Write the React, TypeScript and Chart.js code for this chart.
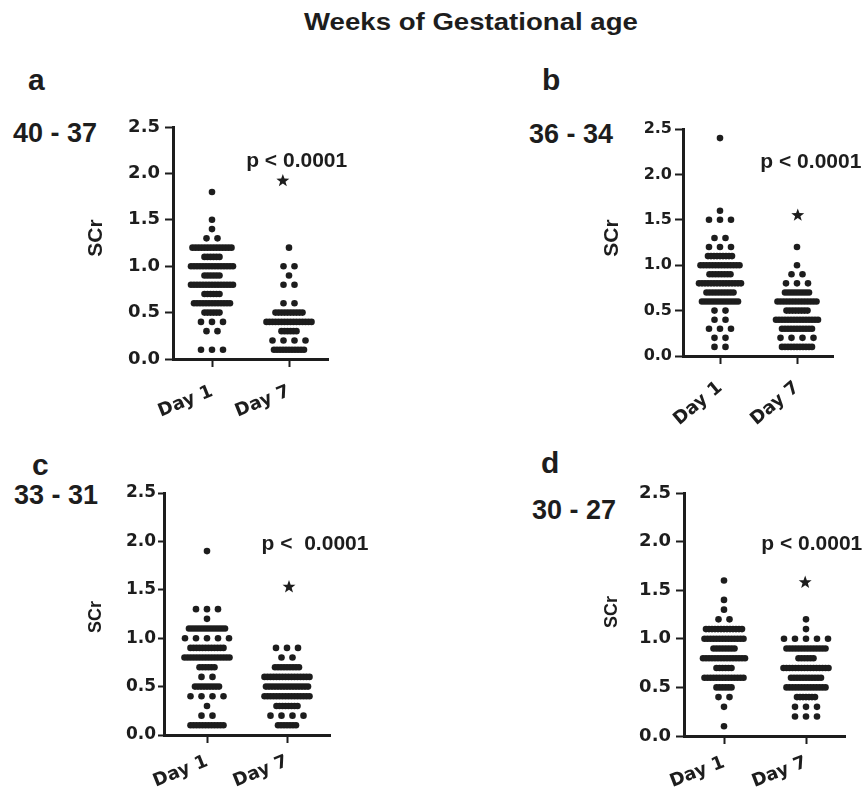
import React, { useEffect, useRef } from "react";
import { Chart, registerables } from "chart.js";

Chart.register(...registerables);

// SCr levels (rows of the dot plot)
const levels = [0.1, 0.2, 0.3, 0.4, 0.5, 0.6, 0.7, 0.8, 0.9, 1.0, 1.1, 1.2, 1.3, 1.4, 1.5, 1.6, 1.7, 1.8, 1.9, 2.0, 2.1, 2.2, 2.3, 2.4];
const categories = ["Day 1", "Day 7"];
const yTicks = [0, 0.5, 1.0, 1.5, 2.0, 2.5];

// number of infants at each SCr level (index matches `levels`)
const aDay1 = [3, 0, 2, 3, 6, 13, 6, 15, 6, 15, 6, 14, 2, 1, 1, 0, 0, 1, 0, 0, 0, 0, 0, 0];
const aDay7 = [11, 4, 6, 16, 10, 2, 0, 2, 1, 2, 0, 1, 0, 0, 0, 0, 0, 0, 0, 0, 0, 0, 0, 0];
const bDay1 = [2, 2, 3, 2, 2, 13, 10, 15, 8, 14, 9, 3, 2, 0, 3, 1, 0, 0, 0, 0, 0, 0, 0, 1];
const bDay7 = [11, 4, 11, 15, 8, 14, 9, 3, 2, 1, 0, 1, 0, 0, 0, 0, 0, 0, 0, 0, 0, 0, 0, 0];
const cDay1 = [12, 2, 1, 4, 9, 2, 6, 16, 12, 5, 13, 1, 3, 0, 0, 0, 0, 0, 1, 0, 0, 0, 0, 0];
const cDay7 = [7, 4, 8, 16, 15, 16, 9, 2, 3, 0, 0, 0, 0, 0, 0, 0, 0, 0, 0, 0, 0, 0, 0, 0];
const dDay1 = [1, 0, 1, 2, 6, 14, 6, 15, 8, 14, 13, 2, 1, 1, 0, 1, 0, 0, 0, 0, 0, 0, 0, 0];
const dDay7 = [0, 3, 3, 7, 14, 11, 16, 6, 14, 5, 1, 1, 0, 0, 0, 0, 0, 0, 0, 0, 0, 0, 0, 0];

const panelLetters = ["a", "b", "c", "d"];
const panelGroups = ["40 - 37", "36 - 34", "33 - 31", "30 - 27"];
const pLabels = ["p < 0.0001", "p < 0.0001", "p <  0.0001", "p < 0.0001"];
const starValues = [1.92, 1.55, 1.53, 1.58];
const yTitle = "SCr";
const mainTitle = "Weeks of Gestational age";

const INK = "#1d1d1d";

type Panel = {
  counts: number[][];
  cl: number; ct: number; cw: number; ch: number;
  L: number; R: number; T: number; B: number;
  d1: number; d7: number;
  tickFont: number; tickPad: number; tickLen: number;
  titleFont: number; titleX: number; titleY: number;
  rot: number; xPad: number;
  pX: number; pY: number; sX: number;
};

const panels: Panel[] = [
  { counts: [aDay1, aDay7], cl: 70, ct: 100, cw: 310, ch: 345, L: 173, R: 328, T: 127, B: 359, d1: 212, d7: 289,
    tickFont: 18, tickPad: 5, tickLen: 8, titleFont: 21, titleX: 96, titleY: 238, rot: 22, xPad: 14, pX: 1.1, pY: 2.13, sX: 0.92 },
  { counts: [bDay1, bDay7], cl: 585, ct: 100, cw: 280, ch: 345, L: 683, R: 833, T: 129, B: 356, d1: 720, d7: 797,
    tickFont: 16, tickPad: 3, tickLen: 8, titleFont: 21, titleX: 612, titleY: 238, rot: 40, xPad: 13, pX: 1.18, pY: 2.13, sX: 1.01 },
  { counts: [cDay1, cDay7], cl: 60, ct: 465, cw: 320, ch: 327, L: 164, R: 330, T: 493, B: 735, d1: 207, d7: 287,
    tickFont: 17, tickPad: 2, tickLen: 6, titleFont: 18, titleX: 96, titleY: 617, rot: 22, xPad: 8, pX: 1.35, pY: 1.97, sX: 1.025 },
  { counts: [dDay1, dDay7], cl: 585, ct: 465, cw: 280, ch: 327, L: 684, R: 845, T: 493, B: 736, d1: 724, d7: 806,
    tickFont: 18, tickPad: 5, tickLen: 8, titleFont: 18, titleX: 612, titleY: 612, rot: 21, xPad: 8, pX: 1.07, pY: 1.97, sX: 0.99 },
];

function buildPoints(counts: number[][], unitPx: number) {
  const pts: { x: number; y: number }[] = [];
  counts.forEach((row, g) => {
    row.forEach((n, i) => {
      const step = n <= 5 ? 11 : 3;
      for (let k = 0; k < n; k++) {
        const off = (k - (n - 1) / 2) * step;
        pts.push({ x: g + off / unitPx, y: levels[i] });
      }
    });
  });
  return pts;
}

function drawStar(ctx: CanvasRenderingContext2D, cx: number, cy: number, R: number, r: number) {
  ctx.beginPath();
  for (let i = 0; i < 10; i++) {
    const ang = -Math.PI / 2 + (i * Math.PI) / 5;
    const rad = i % 2 === 0 ? R : r;
    ctx.lineTo(cx + rad * Math.cos(ang), cy + rad * Math.sin(ang));
  }
  ctx.closePath();
  ctx.fill();
}

function DotPanel({ p, idx }: { p: Panel; idx: number }) {
  const ref = useRef<HTMLCanvasElement | null>(null);
  useEffect(() => {
    if (!ref.current) return;
    const unit = p.d7 - p.d1;
    const xmin = -(p.d1 - p.L) / unit;
    const xmax = 1 + (p.R - p.d7) / unit;
    const yW = p.L - p.cl;
    const xH = p.ct + p.ch - p.B;
    const annot = {
      id: "annot" + idx,
      afterDatasetsDraw(chart: any) {
        const ctx = chart.ctx as CanvasRenderingContext2D;
        const xs = chart.scales.x;
        const ys = chart.scales.y;
        ctx.save();
        ctx.fillStyle = INK;
        ctx.font = "bold 21px 'Liberation Sans', Arial, sans-serif";
        ctx.textAlign = "center";
        ctx.textBaseline = "middle";
        ctx.fillText(pLabels[idx], xs.getPixelForValue(p.pX), ys.getPixelForValue(p.pY));
        drawStar(ctx, xs.getPixelForValue(p.sX), ys.getPixelForValue(starValues[idx]), 6.8, 2.8);
        // y-axis title
        ctx.translate(p.titleX - p.cl, p.titleY - p.ct);
        ctx.rotate(-Math.PI / 2);
        ctx.font = `bold ${p.titleFont}px 'Liberation Sans', Arial, sans-serif`;
        ctx.fillText(yTitle, 0, 0);
        ctx.restore();
      },
    };
    const chart = new Chart(ref.current, {
      type: "scatter",
      data: {
        datasets: [
          {
            data: buildPoints(p.counts, unit),
            pointRadius: 3.3,
            pointBorderWidth: 0,
            pointBackgroundColor: INK,
            pointHoverRadius: 3.3,
            clip: false as any,
          },
        ],
      },
      options: {
        animation: false,
        responsive: false,
        events: [],
        layout: { padding: { left: 0, top: p.T - p.ct, right: p.cl + p.cw - p.R, bottom: 0 } },
        plugins: { legend: { display: false }, tooltip: { enabled: false } },
        scales: {
          x: {
            type: "linear",
            min: xmin,
            max: xmax,
            afterBuildTicks: (s: any) => {
              s.ticks = categories.map((_, i) => ({ value: i }));
            },
            afterFit: (s: any) => {
              s.height = xH;
            },
            ticks: {
              autoSkip: false,
              minRotation: p.rot,
              maxRotation: p.rot,
              padding: p.xPad,
              color: INK,
              font: { family: "'DejaVu Sans', sans-serif", weight: "bold", size: 18 },
              callback: (v: any) => categories[Math.round(Number(v))] ?? "",
            },
            grid: { display: true, drawOnChartArea: false, drawTicks: true, tickLength: 8, tickWidth: 2, tickColor: INK, color: INK },
            border: { display: true, width: 3, color: INK },
          },
          y: {
            type: "linear",
            min: 0,
            max: 2.5,
            afterBuildTicks: (s: any) => {
              s.ticks = yTicks.map((v) => ({ value: v }));
            },
            afterFit: (s: any) => {
              s.width = yW;
            },
            ticks: {
              padding: p.tickPad,
              color: INK,
              font: { family: "'DejaVu Sans', sans-serif", weight: "bold", size: p.tickFont },
              callback: (v: any) => Number(v).toFixed(1),
            },
            title: { display: false },
            grid: { display: true, drawOnChartArea: false, drawTicks: true, tickLength: p.tickLen, tickWidth: 2, tickColor: INK, color: INK },
            border: { display: true, width: 3, color: INK },
          },
        },
      },
      plugins: [annot],
    } as any);
    return () => chart.destroy();
  }, [p, idx]);
  return (
    <canvas
      ref={ref}
      width={p.cw}
      height={p.ch}
      style={{ position: "absolute", left: p.cl, top: p.ct, width: p.cw, height: p.ch }}
    />
  );
}

const letterPos = [
  { left: 28, top: 64.6 },
  { left: 542, top: 64.6 },
  { left: 32, top: 449.6 },
  { left: 541, top: 447.6 },
];
const groupPos = [
  { left: 13, top: 120 },
  { left: 529, top: 121 },
  { left: 14, top: 481.5 },
  { left: 532, top: 496.5 },
];

export default function App() {
  const txt: React.CSSProperties = {
    position: "absolute",
    fontFamily: "'Liberation Sans', Arial, sans-serif",
    fontWeight: "bold",
    color: INK,
    lineHeight: 1,
    whiteSpace: "pre",
    margin: 0,
  };
  return (
    <div style={{ position: "absolute", left: 0, top: 0, width: 865, height: 792, background: "#fff", overflow: "hidden" }}>
      <div style={{ ...txt, left: 470.5, top: 9.7, fontSize: 24, transform: "translateX(-50%) scaleX(1.15)" }}>{mainTitle}</div>
      {panels.map((p, i) => (
        <React.Fragment key={i}>
          <div style={{ ...txt, ...letterPos[i], fontSize: 30 }}>{panelLetters[i]}</div>
          <div style={{ ...txt, ...groupPos[i], fontSize: 27 }}>{panelGroups[i]}</div>
          <DotPanel p={p} idx={i} />
        </React.Fragment>
      ))}
    </div>
  );
}
